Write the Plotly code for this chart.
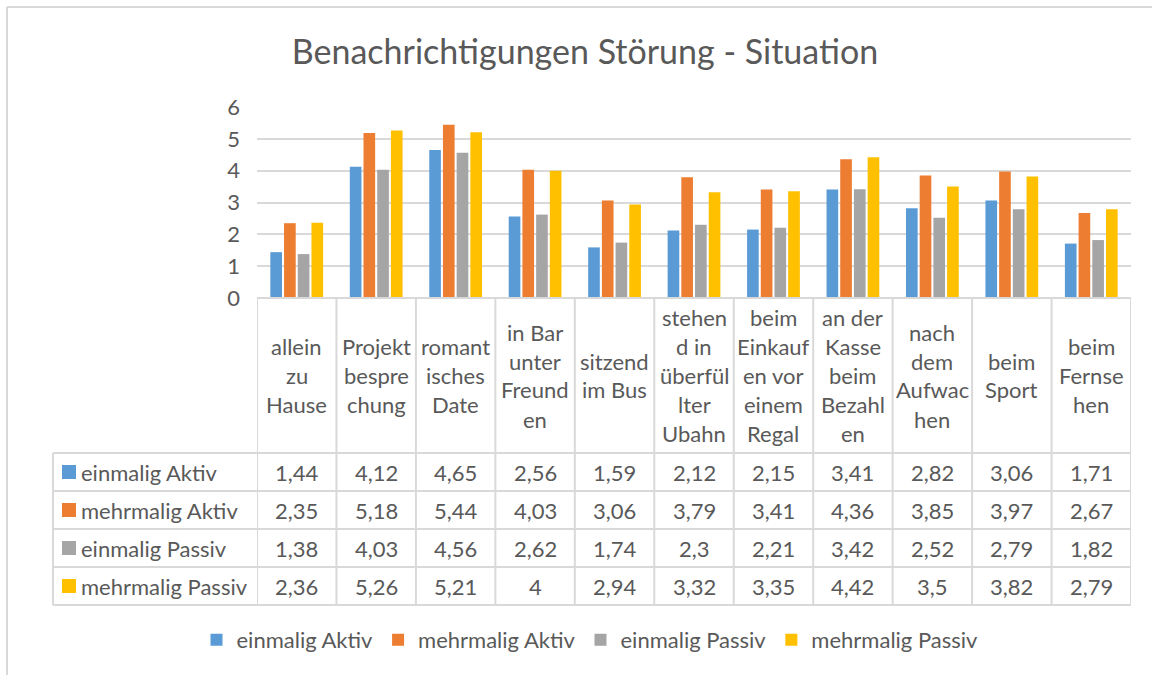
import plotly.graph_objects as go

# ---- data -------------------------------------------------------------
categories = [
    "allein zu Hause", "Projektbesprechung", "romantisches Date",
    "in Bar unter Freunden", "sitzend im Bus", "stehend in überfüllter Ubahn",
    "beim Einkaufen vor einem Regal", "an der Kasse beim Bezahlen",
    "nach dem Aufwachen", "beim Sport", "beim Fernsehen",
]
# header cell text, wrapped the way the table shows it
category_lines = [
    ["allein", "zu", "Hause"],
    ["Projekt", "bespre", "chung"],
    ["romant", "isches", "Date"],
    ["in Bar", "unter", "Freund", "en"],
    ["sitzend", "im Bus"],
    ["stehen", "d in", "überfül", "lter", "Ubahn"],
    ["beim", "Einkauf", "en vor", "einem", "Regal"],
    ["an der", "Kasse", "beim", "Bezahl", "en"],
    ["nach", "dem", "Aufwac", "hen"],
    ["beim", "Sport"],
    ["beim", "Fernse", "hen"],
]
series_names = ["einmalig Aktiv", "mehrmalig Aktiv", "einmalig Passiv", "mehrmalig Passiv"]
einmalig_aktiv = [1.44, 4.12, 4.65, 2.56, 1.59, 2.12, 2.15, 3.41, 2.82, 3.06, 1.71]
mehrmalig_aktiv = [2.35, 5.18, 5.44, 4.03, 3.06, 3.79, 3.41, 4.36, 3.85, 3.97, 2.67]
einmalig_passiv = [1.38, 4.03, 4.56, 2.62, 1.74, 2.30, 2.21, 3.42, 2.52, 2.79, 1.82]
mehrmalig_passiv = [2.36, 5.26, 5.21, 4.00, 2.94, 3.32, 3.35, 4.42, 3.50, 3.82, 2.79]
series_values = [einmalig_aktiv, mehrmalig_aktiv, einmalig_passiv, mehrmalig_passiv]
y_ticks = [0, 1, 2, 3, 4, 5, 6]

# ---- styling ----------------------------------------------------------
COLORS = ["#5B9BD5", "#ED7D31", "#A5A5A5", "#FFC000"]
TEXT = "#595959"
LINE = "#D9D9D9"
FONT = "Lato, Open Sans, sans-serif"
FS = 22
W, H = 1152, 675

# pixel layout of the plot area and the data table below it
PLOT_L, PLOT_R = 257, 1131
PLOT_T, PLOT_B = 107, 298
HEAD_B = 453
ROW_LINES = [453, 491, 529, 567, 605]
TABLE_L = 53
HEAD_LINE_STEP = 29


def py(p):
    """pixel y (from top) -> paper y"""
    return 1 - p / H


def px(p):
    return p / W


def fmt(v):
    return f"{v:g}".replace(".", ",")


fig = go.Figure()
for name, vals, col in zip(series_names, series_values, COLORS):
    fig.add_trace(go.Bar(
        x=categories, y=vals, name=name, marker=dict(color=col, line=dict(width=0)),
        hovertemplate="%{x}<br>" + name + ": %{y}<extra></extra>",
    ))

shapes = []
annotations = []

# table grid: top line (axis), column separators, row lines
shapes.append(dict(type="line", xref="x", yref="paper", x0=-0.5, x1=len(categories) - 0.5,
                   y0=py(PLOT_B), y1=py(PLOT_B), line=dict(color=LINE, width=2)))
for i in range(len(categories) + 1):
    shapes.append(dict(type="line", xref="x", yref="paper", x0=i - 0.5, x1=i - 0.5,
                       y0=py(PLOT_B), y1=py(ROW_LINES[-1]), line=dict(color=LINE, width=2)))
for r in ROW_LINES:
    shapes.append(dict(type="line", xref="paper", yref="paper", x0=px(TABLE_L), x1=px(PLOT_R),
                       y0=py(r), y1=py(r), line=dict(color=LINE, width=2)))
shapes.append(dict(type="line", xref="paper", yref="paper", x0=px(TABLE_L), x1=px(TABLE_L),
                   y0=py(ROW_LINES[0]), y1=py(ROW_LINES[-1]), line=dict(color=LINE, width=2)))

# header cells with category names
head_mid = (PLOT_B + HEAD_B) / 2
for i, lines in enumerate(category_lines):
    n = len(lines)
    for k, t in enumerate(lines):
        yc = head_mid + (k - (n - 1) / 2) * HEAD_LINE_STEP
        annotations.append(dict(x=i, xref="x", y=py(yc), yref="paper", text=t,
                                showarrow=False, xanchor="center", yanchor="middle",
                                font=dict(size=FS, color=TEXT, family=FONT)))

# value rows with series key
for r, (name, vals, col) in enumerate(zip(series_names, series_values, COLORS)):
    yc = (ROW_LINES[r] + ROW_LINES[r + 1]) / 2
    shapes.append(dict(type="rect", xref="paper", yref="paper", x0=px(62), x1=px(76),
                       y0=py(yc + 7), y1=py(yc - 7), fillcolor=col, line=dict(width=0)))
    annotations.append(dict(x=px(79), xref="paper", y=py(yc), yref="paper", text=name,
                            showarrow=False, xanchor="left", yanchor="middle",
                            font=dict(size=FS, color=TEXT, family=FONT)))
    for i, v in enumerate(vals):
        annotations.append(dict(x=i, xref="x", y=py(yc), yref="paper", text=fmt(v),
                                showarrow=False, xanchor="center", yanchor="middle",
                                font=dict(size=FS, color=TEXT, family=FONT)))

# chart frame (top and left edge)
shapes.append(dict(type="line", xref="paper", yref="paper", x0=px(7), x1=1,
                   y0=py(7), y1=py(7), line=dict(color=LINE, width=2)))
shapes.append(dict(type="line", xref="paper", yref="paper", x0=px(7), x1=px(7),
                   y0=py(7), y1=0, line=dict(color=LINE, width=2)))

fig.update_layout(
    width=W, height=H,
    margin=dict(l=0, r=0, t=0, b=0, pad=0, autoexpand=False),
    paper_bgcolor="white", plot_bgcolor="white",
    font=dict(family=FONT, color=TEXT, size=FS),
    title=dict(text="Benachrichtigungen Störung - Situation", x=585 / W, xanchor="center",
               y=py(52), yanchor="middle", font=dict(size=34, color=TEXT, family=FONT)),
    barmode="group", bargap=0.31, bargroupgap=0.15,
    showlegend=True,
    legend=dict(orientation="h", x=590 / W, xanchor="center", y=py(640), yanchor="middle",
                font=dict(size=FS, color=TEXT, family=FONT), traceorder="normal"),
    xaxis=dict(domain=[px(PLOT_L), px(PLOT_R)], range=[-0.5, len(categories) - 0.5],
               showticklabels=False, showgrid=False, zeroline=False, showline=False, ticks="",
               automargin=False),
    yaxis=dict(domain=[py(PLOT_B), py(PLOT_T)], range=[0, 6], tickvals=y_ticks,
               showgrid=True, gridcolor=LINE, gridwidth=2, zeroline=False, showline=False,
               ticks="", ticklabelstandoff=16, automargin=False,
               tickfont=dict(size=FS, color=TEXT, family=FONT)),
    shapes=shapes, annotations=annotations,
)

fig.write_html("out.html")
